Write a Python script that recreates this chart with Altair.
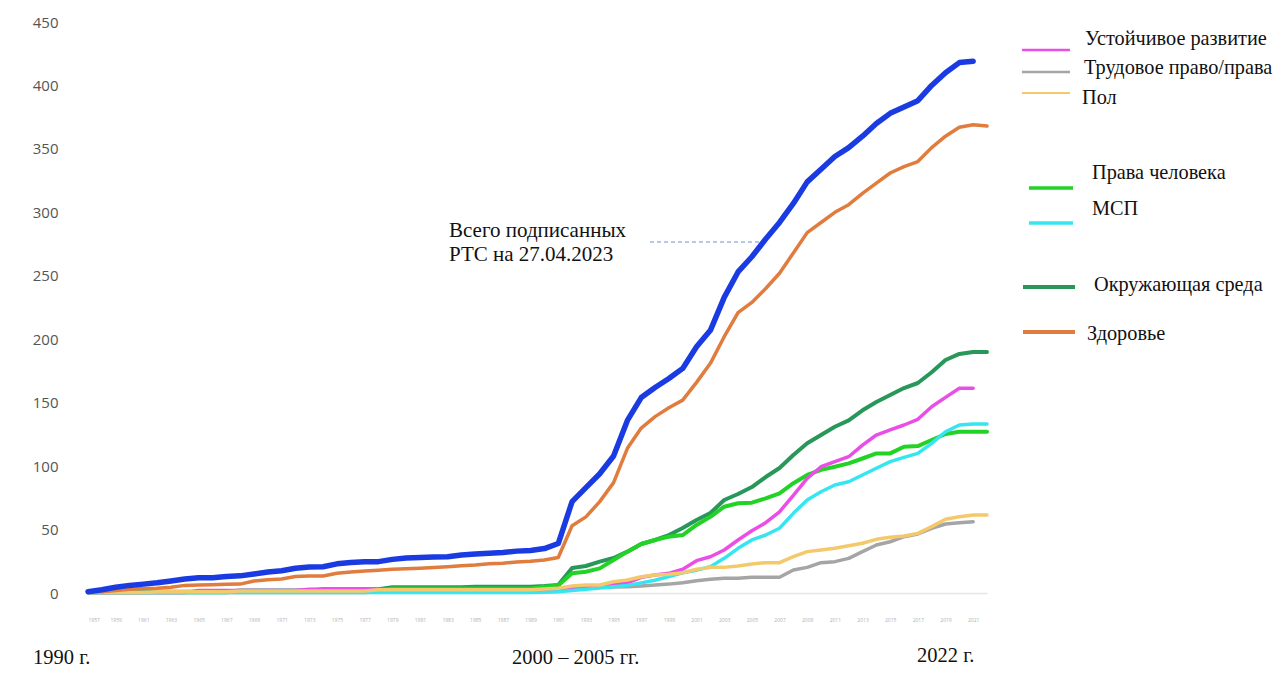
import altair as alt
import pandas as pd

years = list(range(1957, 2023))

total = [1, 2.5, 4.5, 6, 7, 8, 9.5, 11, 12, 12,
         13, 13.5, 15, 16.5, 17.5, 19.5, 20.5, 20.7, 23, 24,
         24.7, 24.7, 26.5, 27.5, 28, 28.3, 28.6, 30, 30.7, 31.3,
         32, 33, 33.5, 35, 39, 72, 83, 94, 108, 136,
         154, 162, 169, 177, 194, 207, 233, 253, 265, 279,
         292, 307, 324, 334, 344, 351, 360, 370, 378, 383,
         388, 400, 410, 418, 419, None]

health = [0.5, 1, 2, 3, 3.5, 3.7, 4.5, 6, 6.3, 6.5,
          6.8, 7, 9.5, 10.5, 11, 13, 13.4, 13.4, 15.5, 16.5,
          17.3, 18, 18.7, 19.2, 19.5, 20, 20.7, 21.5, 22, 23,
          23.5, 24.5, 25, 26, 28, 53, 60, 72, 87, 114,
          130, 139, 146, 152, 166, 181, 202, 221, 229, 240,
          252, 268, 284, 292, 300, 306, 315, 323, 331, 336,
          340, 351, 360, 367, 369, 368]

environment = [0.5, 0.5, 0.5, 0.5, 0.5, 1, 1, 1, 1, 1,
               1, 2, 2, 2, 2, 2, 2, 3, 3, 3,
               3, 3, 4.5, 4.5, 4.5, 4.5, 4.5, 4.5, 5, 5,
               5, 5, 5, 5.5, 6.3, 19.7, 21.3, 24.7, 27.6, 32.6,
               38.6, 41.8, 45.7, 51.2, 57.5, 63, 73.3, 78, 83.5, 91.4,
               98.5, 108.8, 118, 124.5, 131, 136, 144, 150.5, 156, 161.5,
               165.5, 174, 183.6, 188.4, 190, 190]

human_rights = [0.5, 0.5, 0.5, 0.5, 0.5, 0.5, 0.5, 0.5, 0.5, 0.5,
                0.5, 1.5, 1.5, 1.5, 1.5, 1.5, 1.5, 1.5, 1.5, 1.5,
                1.5, 1.5, 3.5, 3.5, 3.5, 3.5, 3.5, 3.5, 3.5, 3.5,
                3.5, 3.5, 3.5, 5, 6, 15.5, 16.8, 19.4, 26, 32.6,
                38.6, 41.8, 44.4, 45.7, 53.6, 60, 68, 70.7, 71.2, 74.6,
                78.6, 86.5, 93, 97, 99.5, 102.2, 106, 110, 110, 115.3,
                115.8, 120.6, 125.3, 127, 127, 127]

sustainable = [0.3, 0.3, 0.3, 0.3, 0.3, 0.3, 0.3, 0.3, 2, 2,
               2, 2, 2, 2, 2, 2, 3, 3, 3, 3,
               3, 3, 3, 3, 3, 3, 3, 3, 3, 3,
               3, 3, 3, 3, 3.5, 4, 4.5, 5, 6.5, 8,
               12.4, 14.2, 15.5, 18.7, 25.5, 28.6, 33.9, 41.8, 49, 55.4,
               64, 77, 90.4, 99.5, 103.5, 107.4, 116.6, 124.5, 128.5, 132.4,
               136.9, 146.8, 154.2, 161.3, 161.3, None]

sme = [0.3, 0.3, 0.3, 0.3, 0.3, 0.3, 0.3, 0.3, 0.3, 0.3,
       0.3, 0.3, 0.3, 0.3, 0.3, 0.3, 0.3, 0.3, 0.3, 0.3,
       0.3, 0.3, 0.3, 0.3, 0.3, 0.3, 0.3, 0.3, 0.3, 0.3,
       0.3, 0.3, 0.3, 0.5, 1, 2, 3, 4, 5, 6,
       8, 10, 13, 16, 18, 20.7, 27.3, 35.2, 41.8, 45.7,
       51, 62.8, 73.3, 79.8, 85.1, 87.7, 93, 98.3, 103.5, 106.9,
       110, 117.9, 127.1, 132.4, 133.2, 133.2]

gender = [0.3, 0.3, 0.3, 0.3, 0.3, 1, 1, 1, 1, 1,
          1, 1.5, 1.5, 1.5, 1.5, 1.5, 1.5, 1.5, 1.5, 1.5,
          1.5, 2.5, 2.5, 2.5, 2.5, 2.5, 2.5, 2.5, 2.5, 2.5,
          2.5, 2.5, 2.5, 3.2, 3.7, 5.5, 6.3, 6.3, 8.9, 10.2,
          12.8, 14.2, 14.7, 16, 18.7, 20.2, 20.2, 21.3, 22.9, 23.9,
          23.9, 28.6, 32.6, 33.9, 35.2, 37.3, 39.2, 42.3, 43.9, 44.9,
          47, 52.3, 58.1, 60.1, 61.5, 61.5]

labour = [0.3, 0.3, 0.3, 0.3, 0.3, 0.3, 0.3, 0.3, 0.3, 0.3,
          0.3, 0.3, 0.3, 0.3, 0.3, 0.3, 0.3, 0.3, 0.3, 0.3,
          0.3, 1, 1, 1, 1, 1, 1, 1, 1, 1,
          1, 1, 1, 2.4, 2.6, 3, 4.5, 4.5, 4.7, 5,
          5.5, 6.3, 7, 8, 9.7, 10.8, 11.6, 11.6, 12.4, 12.4,
          12.4, 18.1, 20.2, 23.9, 24.7, 27.3, 32.6, 37.8, 40.4, 44.4,
          46.5, 51, 54.4, 55.4, 56.2, None]

x_tick_years = list(range(1957, 2022, 2))
y_ticks = [0, 50, 100, 150, 200, 250, 300, 350, 400, 450]

annotation_lines = ["Всего подписанных", "РТС на 27.04.2023"]
bottom_labels = ["1990 г.", "2000 – 2005 гг.", "2022 г."]

# series: (name, values, colour, stroke width) — drawn in this order
series = [
    ("Трудовое право/права", labour, "#a5a5a5", 3.5),
    ("Окружающая среда", environment, "#27985a", 4),
    ("Права человека", human_rights, "#22d325", 4),
    ("Устойчивое развитие", sustainable, "#e94fe6", 3.5),
    ("МСП", sme, "#35e6f0", 3.5),
    ("Пол", gender, "#f4c96c", 3.5),
    ("Здоровье", health, "#e07c3e", 3.5),
    ("Всего", total, "#1a3be2", 5.5),
]

W, H = 899, 571
SERIF = "Times New Roman, Liberation Serif, DejaVu Serif, serif"

x_scale = alt.Scale(domain=[1957, 2022], nice=False, zero=False)
y_scale = alt.Scale(domain=[0, 450], nice=False)
x_axis = alt.Axis(values=x_tick_years, format="d", labelFontSize=5,
                  labelColor="#b0b0b0", ticks=False, grid=False,
                  domainColor="#e6e6e6", domainWidth=1.5,
                  labelPadding=24, labelFont="Open Sans")
y_axis = alt.Axis(values=y_ticks, ticks=False, domain=False, grid=False,
                  labelPadding=30, labelFontSize=15, labelColor="#555555",
                  labelFont="Open Sans")

layers = []
for name, vals, col, sw in series:
    df = pd.DataFrame({"year": years, "value": vals}).dropna()
    layers.append(
        alt.Chart(df).mark_line(color=col, strokeWidth=sw, strokeJoin="round",
                                strokeCap="round", interpolate="linear")
        .encode(x=alt.X("year:Q", scale=x_scale, title=None, axis=x_axis),
                y=alt.Y("value:Q", scale=y_scale, title=None, axis=y_axis))
    )

blank = alt.Data(values=[{}])

def text_at(txt, x, y, size=21, align="left"):
    return alt.Chart(blank).mark_text(text=txt, font=SERIF, fontSize=size, color="#111111",
                                      align=align, baseline="alphabetic").encode(
        x=alt.value(x), y=alt.value(y))

def rule_at(x1, x2, y, col, sw, dash=None):
    kw = dict(color=col, strokeWidth=sw)
    if dash:
        kw["strokeDash"] = dash
    return alt.Chart(blank).mark_rule(**kw).encode(
        x=alt.value(x1), x2=alt.value(x2), y=alt.value(y))

# custom legend (plot coordinates)
legend_spec = [
    ("Устойчивое развитие", "#e94fe6", 2.5, 934, 982, 28, 997, 23),
    ("Трудовое право/права", "#a5a5a5", 2.5, 934, 982, 50, 996, 52),
    ("Пол", "#f4c96c", 2, 934, 982, 71, 994, 82),
    ("Права человека", "#22d325", 3.5, 941, 985, 166, 1004, 157),
    ("МСП", "#35e6f0", 3.5, 941, 985, 201, 1004, 193),
    ("Окружающая среда", "#27985a", 4, 935, 987, 265, 1006, 269),
    ("Здоровье", "#e07c3e", 4, 935, 987, 310, 999, 318),
]
for lab, col, sw, x1, x2, ly, tx, ty in legend_spec:
    layers.append(rule_at(x1, x2, ly, col, sw))
    layers.append(text_at(lab, tx, ty, size=20.3))

# annotation
layers.append(text_at(annotation_lines[0], 361, 215))
layers.append(text_at(annotation_lines[1], 361, 239))
layers.append(rule_at(562, 672, 220, "#6d8fd6", 1, [4, 3]))

# bottom period labels
layers.append(text_at(bottom_labels[0], -55, 642, size=20.5))
layers.append(text_at(bottom_labels[1], 424, 642, size=20.5))
layers.append(text_at(bottom_labels[2], 829, 640, size=20.5))

chart = alt.layer(*layers).properties(
    width=W, height=H,
    autosize=alt.AutoSizeParams(type="none"),
    padding={"left": 80, "top": 14, "right": 286, "bottom": 78},
    background="white",
).configure_view(stroke=None)

chart.save("out.html", embed_options={"renderer": "svg", "actions": False})
